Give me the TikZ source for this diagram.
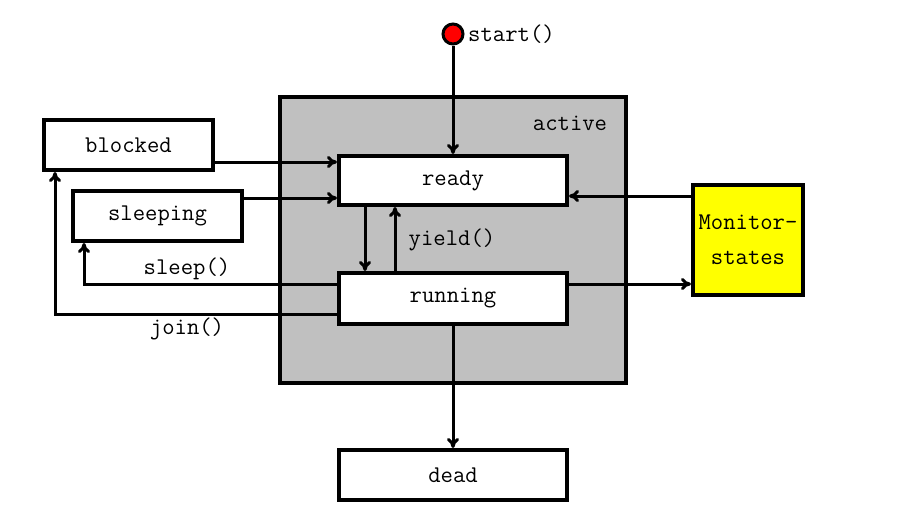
\documentclass[tikz,border=0pt]{standalone}
\usetikzlibrary{arrows.meta}
\definecolor{activegray}{RGB}{192,192,192}
\definecolor{monyellow}{RGB}{255,255,0}
\begin{document}
\begin{tikzpicture}[x=1pt,y=-1pt,
  every node/.style={font=\fontsize{24}{30}\selectfont\ttfamily},
  statebox/.style={draw, line width=4pt, fill=white, rectangle, inner sep=0pt},
  conn/.style={line width=3pt, -{To[length=10pt,width=12pt]}},
  lbl/.style={inner sep=0pt}
]
\useasboundingbox (0,0) rectangle (921,528);
% active region
\node[draw, line width=4pt, fill=activegray, inner sep=0pt,
      minimum width=346pt, minimum height=286pt] (activebox) at (453,240) {};
\node[lbl] (activelbl) at (570,123) {active};
% states
\node[statebox, minimum width=228pt, minimum height=49pt] (ready) at (453,180.5) {ready};
\node[statebox, minimum width=228pt, minimum height=51pt] (running) at (453,298.5) {running};
\node[statebox, minimum width=228pt, minimum height=50pt] (dead) at (453,475) {dead};
\node[statebox, minimum width=169pt, minimum height=50pt] (blocked) at (128.5,145) {blocked};
\node[statebox, minimum width=169pt, minimum height=50pt] (sleeping) at (157.5,216) {sleeping};
\node[statebox, fill=monyellow, minimum width=110pt, minimum height=110pt, align=center] (monitor) at (748,240) {Monitor-\\[5pt]states};
% start
\node[circle, draw, line width=3pt, fill=red, minimum size=20pt, inner sep=0pt] (start) at (453,34) {};
\node[lbl, anchor=west] (startlbl) at (468,34) {start()};
% connectors
\draw[conn] (start.south) -- (ready.north);
\draw[conn] (blocked.east |- 0,162) -- (ready.west |- 0,162);
\draw[conn] (sleeping.east |- 0,198) -- (ready.west |- 0,198);
\draw[conn] (ready.south -| 365,0) -- (running.north -| 365,0);
\draw[conn] (running.north -| 395,0) -- (ready.south -| 395,0);
\node[lbl] (yieldlbl) at (452,240) {yield()};
\draw[conn] (running.west |- 0,284) -| (sleeping.south -| 84,0);
\node[lbl] (sleeplbl) at (187,269) {sleep()};
\draw[conn] (running.west |- 0,314) -| (blocked.south -| 55,0);
\node[lbl] (joinlbl) at (187,329) {join()};
\draw[conn] (monitor.west |- 0,196) -- (ready.east |- 0,196);
\draw[conn] (running.east |- 0,284) -- (monitor.west |- 0,284);
\draw[conn] (running.south) -- (dead.north);
\end{tikzpicture}
\end{document}
